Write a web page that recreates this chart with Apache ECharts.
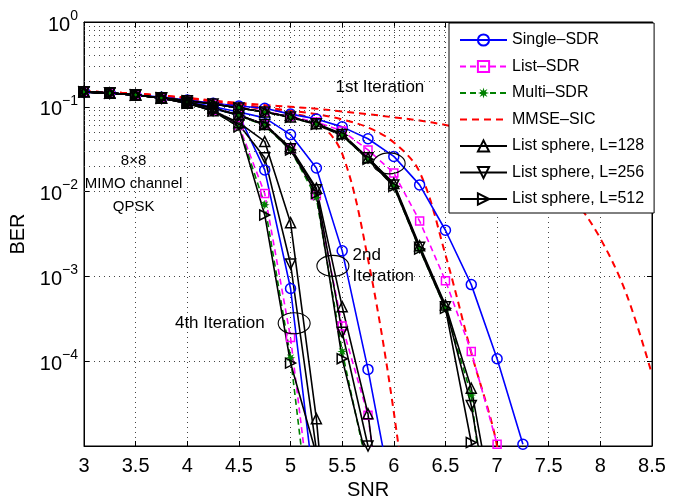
<!DOCTYPE html>
<html><head><meta charset="utf-8">
<script src="https://cdn.jsdelivr.net/npm/echarts@6/dist/echarts.min.js"></script>
<style>html,body{margin:0;padding:0;background:#fff}#c{width:679px;height:498px}</style>
</head><body><div id="c"></div>
<script>
// ---------- data ----------
const snr = [3,3.25,3.5,3.75,4,4.25,4.5,4.75,5,5.25,5.5,5.75,6,6.25,6.5,6.75,7,7.25,7.5,7.75,8,8.25,8.5];
const xTicks = [3,3.5,4,4.5,5,5.5,6,6.5,7,7.5,8,8.5];
const yTickExponents = [0,-1,-2,-3,-4];

const single1 = [0.15,0.145,0.138,0.13,0.12,0.11,0.102,0.096,0.082,0.072,0.058,0.042,0.026,0.012,0.0035,0.0008,0.000107,0.0000105];
const single2 = [0.15,0.145,0.138,0.128,0.115,0.1,0.087,0.074,0.047,0.019,0.002,0.00008,0.000002];
const single4 = [0.15,0.145,0.138,0.127,0.112,0.095,0.08,0.018,0.00072,0.000002];

const list1 = [0.15,0.145,0.138,0.128,0.118,0.108,0.098,0.088,0.077,0.066,0.052,0.031,0.0166,0.0045,0.00089,0.00013,0.0000105];
const list2 = [0.15,0.145,0.138,0.127,0.113,0.097,0.08,0.062,0.032,0.009,0.00026,0.000023,0.0000001];
const list4 = [0.15,0.145,0.138,0.126,0.11,0.09,0.06,0.0095,0.00019,0.0000006];

const multi1 = [0.15,0.145,0.138,0.128,0.118,0.108,0.097,0.087,0.075,0.062,0.046,0.024,0.0115,0.0021,0.00042,0.00004,0.0000001];
const multi2 = [0.15,0.145,0.138,0.127,0.113,0.096,0.079,0.06,0.031,0.0085,0.00013,0.000005];
const multi4 = [0.15,0.145,0.138,0.126,0.11,0.089,0.058,0.007,0.00011,0.0000003];

const mmse1 = [0.152,0.148,0.143,0.136,0.128,0.119,0.111,0.105,0.1,0.095,0.088,0.082,0.075,0.069,0.061,0.052,0.04,0.028,0.017,0.008,0.0028,0.00063,0.00007];
const mmse2 = [0.152,0.148,0.143,0.135,0.126,0.116,0.107,0.098,0.09,0.082,0.071,0.057,0.038,0.017,0.0018,0.000126,0.00001,0.0000001];
const mmse4 = [0.152,0.148,0.143,0.134,0.124,0.113,0.103,0.094,0.084,0.068,0.028,0.0016,0.000025,0.0000001];

const ls128_1 = [0.15,0.145,0.138,0.128,0.118,0.108,0.097,0.087,0.076,0.063,0.048,0.025,0.0125,0.0023,0.00046,0.000048,0.000001];
const ls256_1 = [0.15,0.145,0.138,0.128,0.118,0.108,0.097,0.087,0.076,0.063,0.047,0.025,0.012,0.0022,0.00044,0.00003,0.0000005];
const ls512_1 = [0.15,0.145,0.138,0.128,0.118,0.108,0.097,0.087,0.075,0.062,0.046,0.024,0.0115,0.0021,0.00042,0.000011,0.0000001];

const ls128_2 = [0.15,0.145,0.138,0.127,0.113,0.097,0.08,0.062,0.033,0.011,0.00044,0.000024,0.0000001];
const ls256_2 = [0.15,0.145,0.138,0.127,0.113,0.097,0.08,0.062,0.032,0.0105,0.00022,0.00001,0.00000001];
const ls512_2 = [0.15,0.145,0.138,0.127,0.113,0.096,0.079,0.061,0.031,0.0095,0.000107,0.000006];

const ls128_4 = [0.15,0.145,0.138,0.126,0.11,0.09,0.065,0.039,0.0043,0.000021,0.00000001];
const ls256_4 = [0.15,0.145,0.138,0.126,0.11,0.09,0.062,0.025,0.0014,0.000009,0.000000001];
const ls512_4 = [0.15,0.145,0.138,0.126,0.11,0.089,0.058,0.0053,0.000095,0.000008];

const legendNames = ['Single\u2013SDR','List\u2013SDR','Multi\u2013SDR','MMSE\u2013SIC','List sphere, L=128','List sphere, L=256','List sphere, L=512'];

// annotation anchors in data coordinates [snr, ber]
const textNotes = [
  {text:'1st Iteration', at:[5.865, 0.171], align:'center', size:17, lh:22},
  {text:'2nd\nIteration', at:[5.60, 0.00135], align:'left', size:17, lh:21},
  {text:'4th Iteration', at:[4.75, 0.00028], align:'right', size:17, lh:22},
  {text:'8\u00d78\nMIMO channel\nQPSK', at:[3.48, 0.0125], align:'center', size:15, lh:23}
];
const ellipseNotes = [[5.955, 0.0215],[5.41, 0.00133],[5.035, 0.00028]];

// ---------- styles ----------
const FONT = 'Liberation Sans, Arial, Helvetica, sans-serif';
function starPath(){
  let p = 'path://';
  for (let i=0;i<16;i++){
    const a = Math.PI*i/8 - Math.PI/2;
    const r = (i%2===0)?10:4.2;
    p += (i===0?'M':'L') + (10+r*Math.cos(a)).toFixed(2)+' '+(10+r*Math.sin(a)).toFixed(2)+' ';
  }
  return p+'Z';
}
const styleOf = {
  'Single\u2013SDR': {color:'#0000ff', dash:'solid', symbol:'circle', size:10, hollow:true, width:1.6},
  'List\u2013SDR': {color:'#ff00ff', dash:[6,4], symbol:'rect', size:8, hollow:true, width:1.6},
  'Multi\u2013SDR': {color:'#008000', dash:[6,4], symbol:starPath(), size:10, hollow:false, width:1.6},
  'MMSE\u2013SIC': {color:'#ff0000', dash:[7,5], symbol:'none', size:0, hidden:true, width:2},
  'List sphere, L=128': {color:'#000000', dash:'solid', symbol:'triangle', size:10, rot:0, hollow:true, width:1.6},
  'List sphere, L=256': {color:'#000000', dash:'solid', symbol:'triangle', size:10, rot:180, hollow:true, width:1.6},
  'List sphere, L=512': {color:'#000000', dash:'solid', symbol:'triangle', size:10, rot:-90, hollow:true, width:1.6}
};

function mk(name, vals, smooth){
  const s = styleOf[name];
  let item;
  if (s.hidden) item = {color:'rgba(0,0,0,0)', borderColor:'rgba(0,0,0,0)', borderWidth:0};
  else if (s.hollow) item = {color:'rgba(255,255,255,0)', borderColor:s.color, borderWidth:1.5};
  else item = {color:s.color, borderColor:s.color, borderWidth:0};
  return {
    name: name, type:'line', xAxisIndex:0, yAxisIndex:0,
    data: vals.map((v,i)=>[snr[i], v]),
    symbol: s.symbol, symbolSize: s.size, symbolRotate: s.rot||0,
    showSymbol: s.symbol!=='none', smooth: smooth?0.35:false,
    lineStyle:{color:s.color, width:s.width, type:s.dash},
    itemStyle: item,
    emphasis:{disabled:true}, clip:true, animation:false, z:3
  };
}

const minorVals = [];
for (let k=-5;k<0;k++) for (let m=2;m<=9;m++) minorVals.push(m*Math.pow(10,k));

const series = [
  mk('MMSE\u2013SIC', mmse1, true), mk('MMSE\u2013SIC', mmse2, true), mk('MMSE\u2013SIC', mmse4, true),
  mk('Single\u2013SDR', single1), mk('Single\u2013SDR', single2), mk('Single\u2013SDR', single4),
  mk('List\u2013SDR', list1), mk('List\u2013SDR', list2), mk('List\u2013SDR', list4),
  mk('Multi\u2013SDR', multi1), mk('Multi\u2013SDR', multi2), mk('Multi\u2013SDR', multi4),
  mk('List sphere, L=128', ls128_1), mk('List sphere, L=128', ls128_2), mk('List sphere, L=128', ls128_4),
  mk('List sphere, L=256', ls256_1), mk('List sphere, L=256', ls256_2), mk('List sphere, L=256', ls256_4),
  mk('List sphere, L=512', ls512_1), mk('List sphere, L=512', ls512_2), mk('List sphere, L=512', ls512_4),
  {type:'line', name:'_grid', data:[], silent:true, z:1,
   markLine:{silent:true, symbol:['none','none'], animation:false, label:{show:false},
     lineStyle:{color:'#444', width:1, type:[1,4]}, emphasis:{disabled:true},
     data: minorVals.map(v=>({yAxis:v}))}}
];

const gridLine = {show:true, lineStyle:{color:'#444', width:1, type:[1,4]}};
const chart = echarts.init(document.getElementById('c'), null, {renderer:'canvas'});
chart.setOption({
  animation:false,
  backgroundColor:'#fff',
  grid:{left:84, right:27, top:22, bottom:52, containLabel:false, outerBoundsMode:'none',
        show:true, borderColor:'#000', borderWidth:1, backgroundColor:'transparent'},
  legend:{
    data: legendNames, orient:'vertical', left:449, top:23,
    padding:[9,10,6,10], itemGap:10.5, itemWidth:47, itemHeight:14,
    backgroundColor:'#fff', borderColor:'#000', borderWidth:1, borderRadius:0,
    textStyle:{fontSize:16, fontFamily:FONT, color:'#000'}, selectedMode:false, z:10
  },
  xAxis:[
    {type:'value', min:xTicks[0], max:xTicks[xTicks.length-1], interval:0.5, position:'bottom',
     name:'SNR', nameLocation:'middle', nameGap:32, nameTextStyle:{fontSize:20, fontFamily:FONT, color:'#000'},
     axisLine:{show:true, lineStyle:{color:'#000', width:1}},
     axisTick:{show:true, inside:true, length:5, lineStyle:{color:'#000'}},
     axisLabel:{fontSize:20, fontFamily:FONT, color:'#000', margin:10},
     splitLine: gridLine},
    {type:'value', min:xTicks[0], max:xTicks[xTicks.length-1], interval:0.5, position:'top',
     axisLine:{show:true, lineStyle:{color:'#000'}}, axisTick:{show:true, inside:true, length:5, lineStyle:{color:'#000'}},
     axisLabel:{show:false}, splitLine:{show:false}}
  ],
  yAxis:[
    {type:'log', logBase:10, min:1e-5, max:1, position:'left',
     name:'BER', nameLocation:'middle', nameGap:51, nameRotate:90, nameTextStyle:{fontSize:20, fontFamily:FONT, color:'#000'},
     axisLine:{show:true, lineStyle:{color:'#000', width:1}},
     axisTick:{show:true, inside:true, length:5, lineStyle:{color:'#000'}},
     axisLabel:{fontFamily:FONT, color:'#000', margin:6,
       formatter:function(v){
         const e = Math.round(Math.log10(v));
         if (yTickExponents.indexOf(e)<0) return '';
         return '{b|10}{s|' + (e===0?'0':'\u2212'+(-e)) + '}';
       },
       rich:{b:{fontSize:20, fontFamily:FONT, color:'#000', verticalAlign:'bottom', padding:[6,0,0,0]},
             s:{fontSize:14, fontFamily:FONT, color:'#000', verticalAlign:'bottom', padding:[0,0,12,0]}}},
     splitLine: gridLine},
    {type:'log', logBase:10, min:1e-5, max:1, position:'right',
     axisLine:{show:true, lineStyle:{color:'#000'}}, axisTick:{show:true, inside:true, length:5, lineStyle:{color:'#000'}},
     axisLabel:{show:false}, splitLine:{show:false}}
  ],
  series: series
});

// annotations placed through the chart's own coordinate conversion
const g = [];
textNotes.forEach(n=>{
  const p = chart.convertToPixel({xAxisIndex:0, yAxisIndex:0}, n.at);
  g.push({type:'text', x:p[0], y:p[1], z:20, silent:true,
    style:{text:n.text, font:n.size+'px '+FONT, fill:'#000', align:n.align, verticalAlign:'middle', lineHeight:n.lh}});
});
ellipseNotes.forEach(e=>{
  const p = chart.convertToPixel({xAxisIndex:0, yAxisIndex:0}, e);
  g.push({type:'ellipse', z:20, silent:true, shape:{cx:p[0], cy:p[1], rx:16, ry:10.5},
    style:{fill:'none', stroke:'#000', lineWidth:1.1}});
});
chart.setOption({graphic:g});
</script>
</body></html>
